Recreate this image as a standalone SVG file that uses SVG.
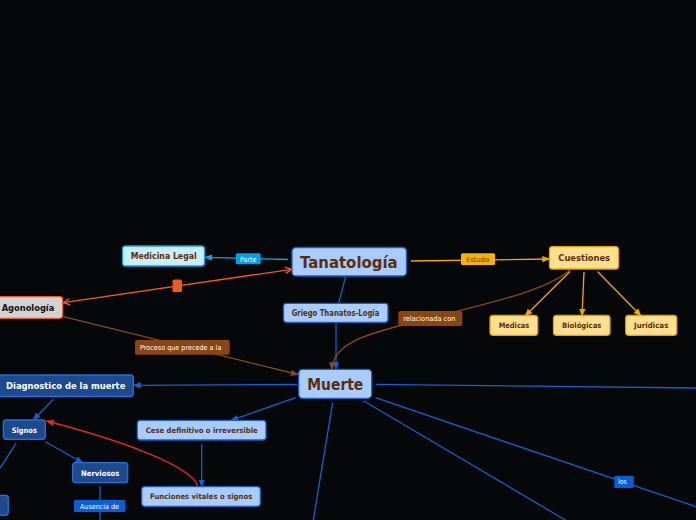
<svg xmlns="http://www.w3.org/2000/svg" width="696" height="520" viewBox="0 0 696 520">
<defs>
<style>
.t{font-family:"DejaVu Sans","Liberation Sans",sans-serif;font-weight:bold;text-anchor:middle}
.l{font-family:"DejaVu Sans","Liberation Sans",sans-serif;text-anchor:middle;font-size:7px;fill:#ffffff}
.lb{fill:#a8ccfb;stroke:#1c5fc4;stroke-width:1.3}
.db{fill:#1c4a8c;stroke:#2d6fd6;stroke-width:1.3}
.yb{fill:#ffe08f;stroke:#e8a400;stroke-width:1.3}
.br{fill:#5c2d0a}
.wt{fill:#ffffff}
.cb{fill:none;stroke:#1560d0;stroke-width:1.3}
.co{fill:none;stroke:#f0a800;stroke-width:1.3}
.cbr{fill:none;stroke:#8b4a1a;stroke-width:1.3}
</style>
<marker id="mb" viewBox="0 0 10 10" refX="9" refY="5" markerWidth="8" markerHeight="8" orient="auto" markerUnits="userSpaceOnUse"><path d="M0,1 L10,5 L0,9 z" fill="#1560d0"/></marker>
<marker id="mc" viewBox="0 0 10 10" refX="9" refY="5" markerWidth="8" markerHeight="8" orient="auto" markerUnits="userSpaceOnUse"><path d="M0,1 L10,5 L0,9 z" fill="#18a0e0"/></marker>
<marker id="mo" viewBox="0 0 10 10" refX="9" refY="5" markerWidth="8" markerHeight="8" orient="auto" markerUnits="userSpaceOnUse"><path d="M0,1 L10,5 L0,9 z" fill="#f0a800"/></marker>
<marker id="mbr" viewBox="0 0 10 10" refX="9" refY="5" markerWidth="8" markerHeight="8" orient="auto" markerUnits="userSpaceOnUse"><path d="M0,1 L10,5 L0,9 z" fill="#8b4a1a"/></marker>
<marker id="mr" viewBox="0 0 10 10" refX="9" refY="5" markerWidth="8" markerHeight="8" orient="auto" markerUnits="userSpaceOnUse"><path d="M0,1 L10,5 L0,9 z" fill="#e02828"/></marker>
<marker id="mx" viewBox="0 0 10 10" refX="9" refY="5" markerWidth="8" markerHeight="8" orient="auto-start-reverse" markerUnits="userSpaceOnUse"><path d="M1,1 L9,5 L1,9" fill="none" stroke="#f05a20" stroke-width="1.6"/></marker>
</defs>
<rect width="696" height="520" fill="#050709"/>
<g id="connectors">
<line x1="288" y1="259.5" x2="205" y2="257.3" stroke="#18a0e0" stroke-width="1.3" marker-end="url(#mc)"/>
<line x1="411" y1="261" x2="549.5" y2="259" class="co" marker-end="url(#mo)"/>
<line x1="570" y1="271.5" x2="525" y2="316" class="co" marker-end="url(#mo)"/>
<line x1="584" y1="272" x2="582" y2="316" class="co" marker-end="url(#mo)"/>
<line x1="597.5" y1="271.5" x2="641" y2="316" class="co" marker-end="url(#mo)"/>
<line x1="345.7" y1="276.7" x2="338.7" y2="303" class="cb"/>
<line x1="336" y1="322.5" x2="336" y2="369.5" class="cb" marker-end="url(#mb)"/>
<path d="M570,270 C545,292 480,305 430,318 C372,332 332,342 332,369.5" class="cbr" marker-end="url(#mbr)"/>
<line x1="63.5" y1="302.7" x2="291.7" y2="269.3" stroke="#f05a20" stroke-width="1.3" marker-start="url(#mx)" marker-end="url(#mx)"/>
<line x1="63.3" y1="316.7" x2="298" y2="374.5" class="cbr" marker-end="url(#mbr)"/>
<line x1="297" y1="384.5" x2="133.5" y2="385.3" class="cb" marker-end="url(#mb)"/>
<line x1="295.7" y1="397.7" x2="231" y2="420.3" class="cb" marker-end="url(#mb)"/>
<line x1="53.3" y1="399.3" x2="33.3" y2="420" class="cb" marker-end="url(#mb)"/>
<line x1="45.3" y1="441.7" x2="82.7" y2="462.7" class="cb" marker-end="url(#mb)"/>
<line x1="16" y1="443.3" x2="0" y2="468.3" class="cb"/>
<line x1="100" y1="486" x2="100" y2="520" class="cb"/>
<line x1="201.7" y1="444" x2="201.7" y2="486.7" class="cb" marker-end="url(#mb)"/>
<path d="M197.5,486 C192,466 120,440 46.5,421" fill="none" stroke="#e02828" stroke-width="1.5" marker-end="url(#mr)"/>
<line x1="375.5" y1="384.3" x2="696" y2="388" class="cb"/>
<line x1="375.5" y1="397.7" x2="696" y2="506.7" class="cb"/>
<line x1="363.3" y1="400.7" x2="565.3" y2="520" class="cb"/>
<line x1="332.7" y1="402.3" x2="313.3" y2="520" class="cb"/>
<rect x="172.5" y="279.5" width="9.5" height="12.5" rx="1.5" fill="#f05a20"/>
<rect x="235.7" y="253.3" width="25" height="11" rx="1.5" fill="#0b9ee6"/>
<text x="248.2" y="261.5" class="l" textLength="16.3" lengthAdjust="spacingAndGlyphs">Parte</text>
<rect x="461" y="253.3" width="34" height="11.7" rx="1.5" fill="#f5b400"/>
<text x="478" y="261.8" class="l" style="fill:#5c2d0a" textLength="23.3" lengthAdjust="spacingAndGlyphs">Estudia</text>
<rect x="398.3" y="311" width="64" height="15" rx="2" fill="#8b4513"/>
<text x="429.3" y="321" class="l" textLength="52" lengthAdjust="spacingAndGlyphs">relacionada con</text>
<rect x="135" y="340" width="94.7" height="14.7" rx="2" fill="#8b4513"/>
<text x="180.7" y="350" class="l" textLength="81.3" lengthAdjust="spacingAndGlyphs">Proceso que precede a la</text>
<rect x="74" y="500" width="51.3" height="12" rx="1.5" fill="#0a5fd6"/>
<text x="99.5" y="509" class="l" textLength="39" lengthAdjust="spacingAndGlyphs">Ausencia de</text>
<rect x="614.3" y="475.7" width="19.4" height="12.3" rx="1.5" fill="#0a5fd6"/>
<text x="622.3" y="484.3" class="l" textLength="8.7" lengthAdjust="spacingAndGlyphs">los</text>
</g>
<g id="tanatologia">
<rect x="292" y="247.5" width="114.5" height="28.5" rx="4" class="lb"/>
<text x="348.8" y="267.5" class="t br" font-size="16" textLength="97.7" lengthAdjust="spacingAndGlyphs">Tanatología</text>
</g>
<g id="medicina-legal">
<rect x="122.5" y="246" width="82" height="20" rx="3" fill="#c8eefc" stroke="#18a0e0" stroke-width="1.3"/>
<text x="163.7" y="259.3" class="t br" font-size="9" textLength="66" lengthAdjust="spacingAndGlyphs">Medicina Legal</text>
</g>
<g id="griego">
<rect x="283.5" y="303.3" width="104.5" height="19" rx="3" class="lb"/>
<text x="335.5" y="316" class="t br" font-size="8" textLength="87.7" lengthAdjust="spacingAndGlyphs">Griego Thanatos-Logia</text>
</g>
<g id="cuestiones">
<rect x="549.5" y="246.7" width="69" height="22.3" rx="3" class="yb"/>
<text x="584.2" y="261" class="t br" font-size="9" textLength="51.7" lengthAdjust="spacingAndGlyphs">Cuestiones</text>
</g>
<g id="medicas">
<rect x="490" y="315.5" width="47.7" height="19.8" rx="3" class="yb"/>
<text x="514" y="327.8" class="t br" font-size="7.5" textLength="30.7" lengthAdjust="spacingAndGlyphs">Medicas</text>
</g>
<g id="biologicas">
<rect x="553.5" y="315.5" width="56.5" height="19.8" rx="3" class="yb"/>
<text x="581.7" y="327.8" class="t br" font-size="7.5" textLength="39.3" lengthAdjust="spacingAndGlyphs">Biológicas</text>
</g>
<g id="juridicas">
<rect x="625.7" y="315.5" width="51" height="19.8" rx="3" class="yb"/>
<text x="651.2" y="327.8" class="t br" font-size="7.5" textLength="34.3" lengthAdjust="spacingAndGlyphs">Jurídicas</text>
</g>
<g id="agonologia">
<rect x="-5" y="296.7" width="67.7" height="21.6" rx="3" fill="#d2d2d2" stroke="#e85a28" stroke-width="1.3"/>
<text x="28" y="310.5" class="t" fill="#111111" font-size="9" textLength="52.7" lengthAdjust="spacingAndGlyphs">Agonología</text>
</g>
<g id="muerte">
<rect x="298.7" y="369.3" width="73" height="29" rx="4" class="lb"/>
<text x="335.3" y="390" class="t br" font-size="15" textLength="56" lengthAdjust="spacingAndGlyphs">Muerte</text>
</g>
<g id="diagnostico">
<rect x="-3" y="375" width="136.3" height="21.5" rx="3" class="db"/>
<text x="65.7" y="389.3" class="t wt" font-size="9.5" textLength="119.3" lengthAdjust="spacingAndGlyphs">Diagnostico de la muerte</text>
</g>
<g id="signos">
<rect x="3.3" y="420" width="42" height="19.3" rx="3" class="db"/>
<text x="24.3" y="432.5" class="t wt" font-size="7.5" textLength="25.3" lengthAdjust="spacingAndGlyphs">Signos</text>
</g>
<g id="nerviosos">
<rect x="72.7" y="462.7" width="55" height="20" rx="3" class="db"/>
<text x="100.2" y="475.5" class="t wt" font-size="7.5" textLength="38.3" lengthAdjust="spacingAndGlyphs">Nerviosos</text>
</g>
<g id="nodo-izquierdo">
<rect x="-8" y="495.3" width="16.3" height="20" rx="3" class="db"/>
</g>
<g id="cese">
<rect x="137.3" y="420.3" width="128.7" height="19.7" rx="3" class="lb"/>
<text x="201.7" y="432.7" class="t br" font-size="7.5" textLength="112" lengthAdjust="spacingAndGlyphs">Cese definitivo o irreversible</text>
</g>
<g id="funciones">
<rect x="141.7" y="486.7" width="118.6" height="19.6" rx="3" class="lb"/>
<text x="201.2" y="499.3" class="t br" font-size="7.5" textLength="102.3" lengthAdjust="spacingAndGlyphs">Funciones vitales o signos</text>
</g>
</svg>
